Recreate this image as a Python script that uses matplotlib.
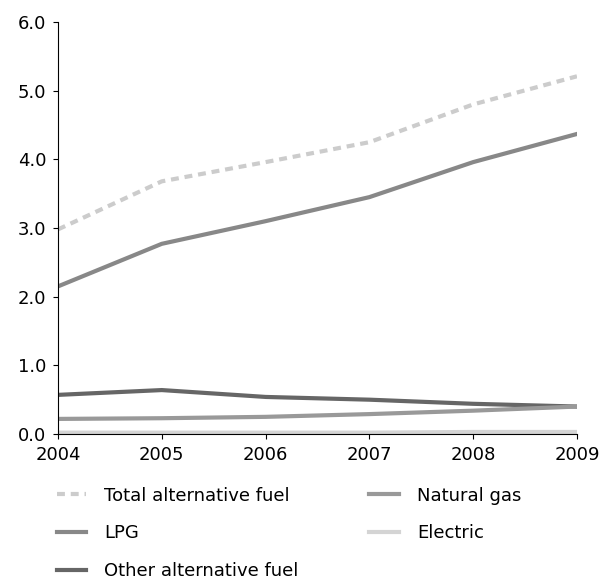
import matplotlib.pyplot as plt

years = [2004, 2005, 2006, 2007, 2008, 2009]
total_alt = [2.98, 3.68, 3.96, 4.25, 4.80, 5.21]
lpg = [2.15, 2.77, 3.10, 3.45, 3.96, 4.37]
other_alt = [0.57, 0.64, 0.54, 0.50, 0.44, 0.40]
natural_gas = [0.22, 0.23, 0.25, 0.29, 0.34, 0.40]
electric = [0.02, 0.02, 0.02, 0.02, 0.03, 0.03]

fig = plt.figure(figsize=(6.01, 5.80), dpi=100)
ax = fig.add_axes([0.0965, 0.2517, 0.8635, 0.7103])

h_total, = ax.plot(years, total_alt, color='#cccccc', lw=3.0, ls=(0, (1.9, 1.4)),
                   label='Total alternative fuel')
h_lpg, = ax.plot(years, lpg, color='#888888', lw=3.0, label='LPG')
h_other, = ax.plot(years, other_alt, color='#666666', lw=3.0, label='Other alternative fuel')
h_gas, = ax.plot(years, natural_gas, color='#999999', lw=3.0, label='Natural gas')
h_el, = ax.plot(years, electric, color='#d4d4d4', lw=3.0, label='Electric')

ax.set_xlim(2004, 2009)
ax.set_ylim(0, 6)
ax.set_yticks([0, 1, 2, 3, 4, 5, 6])
ax.set_yticklabels([f'{v:.1f}' for v in range(7)])
ax.set_xticks(years)
for s in ['top', 'right']:
    ax.spines[s].set_visible(False)
ax.tick_params(labelsize=13, length=3.5, color='black', pad=5)

fig.legend(handles=[h_total, h_lpg, h_other, h_gas, h_el], ncol=2,
           loc='upper left', bbox_to_anchor=(0.067, 0.189), frameon=False,
           fontsize=13, handlelength=1.65, columnspacing=3.9, labelspacing=1.1,
           handletextpad=1.0)

fig.savefig('out.png', dpi=100)
